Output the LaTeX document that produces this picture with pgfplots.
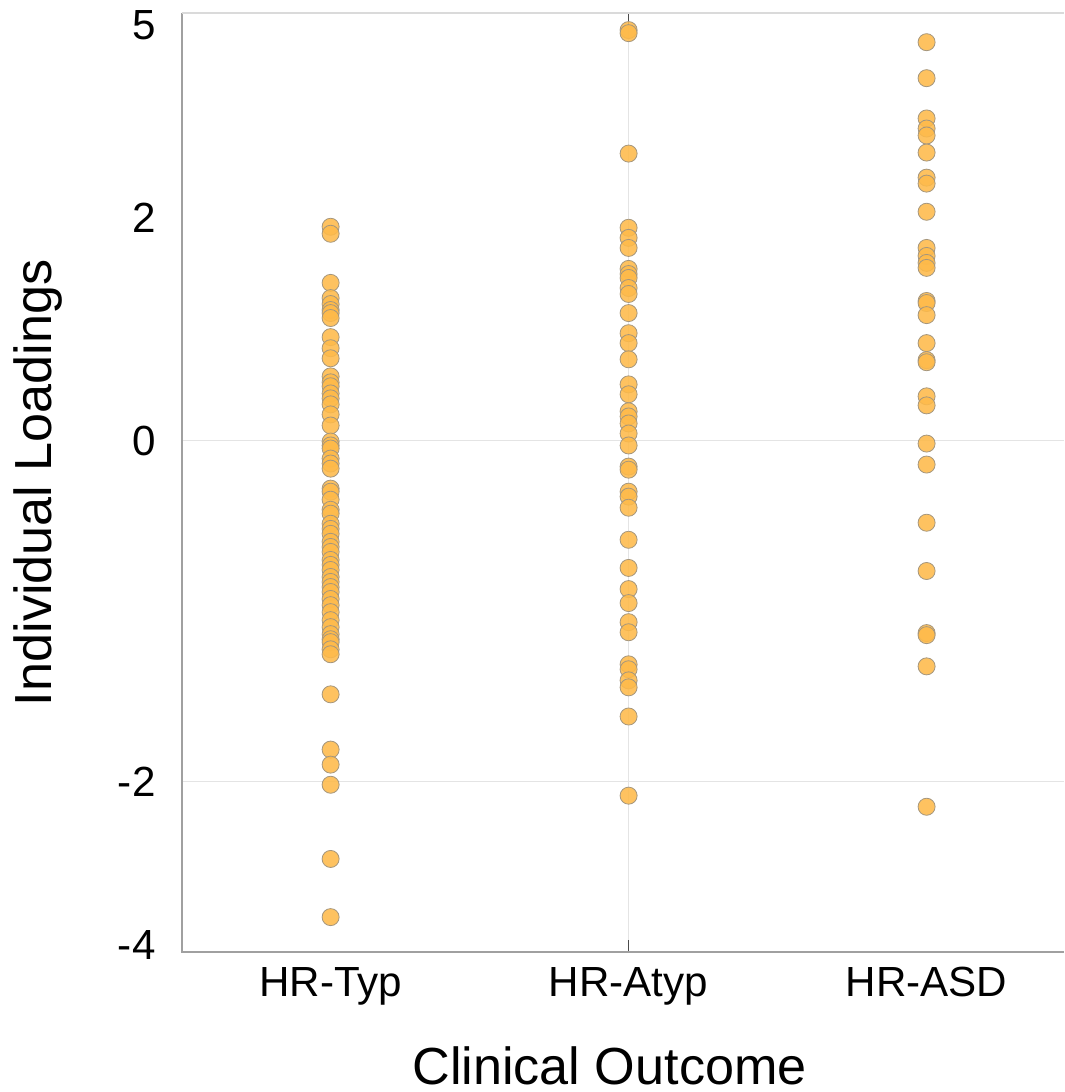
\documentclass[border=0pt]{standalone}
\usepackage{pgfplots}
\pgfplotsset{compat=1.18}
\usepackage{fontspec}
\setmainfont{Liberation Sans}

\definecolor{dotfill}{RGB}{254,186,74}
\definecolor{dotedge}{RGB}{165,150,125}
\definecolor{axisgray}{RGB}{160,160,160}
\definecolor{gridgray}{RGB}{228,228,228}

\begin{document}
\begin{tikzpicture}
\begin{axis}[
    scale only axis,
    width=439.5pt, height=468pt,
    xmin=-0.5, xmax=2.46,
    ymin=-3.0, ymax=2.506,
    xtick={0,1,2},
    xticklabels={HR-Typ,HR-Atyp,HR-ASD},
    ytick={-2.959,-2,0,1.306,2.435},
    yticklabels={-4,-2,0,2,5},
    major tick length=0pt,
    extra x ticks={1}, extra x tick labels={},
    extra x tick style={grid=major, major tick length=6pt, tick style={black!70, line width=0.6pt}},
    extra y ticks={-2,0}, extra y tick labels={},
    extra y tick style={grid=major, major tick length=0pt},
    grid style={gridgray, line width=0.6pt},
    axis line style={draw=none},
    tick label style={font=\fontsize{21}{21}\selectfont},
    xticklabel style={yshift=-4pt},
    yticklabel style={xshift=-9.5pt},
    label style={font=\fontsize{26}{26}\selectfont},
    xlabel={Clinical Outcome},
    ylabel={Individual Loadings},
    xlabel style={xshift=-6.5pt, yshift=-14pt},
    ylabel style={yshift=21pt},
    clip=false,
]
% margins as in the original figure
\path (rel axis cs:0,0.5) ++(-90.5pt,0pt);
\path (rel axis cs:0.5,1) ++(0pt,6.5pt);
\draw[axisgray, line width=1pt] (rel axis cs:0,1) -- (rel axis cs:0,0) -- (rel axis cs:1,0);
\draw[gridgray!90!gray, line width=0.8pt] (rel axis cs:0,1) -- (rel axis cs:1,1);

\addplot[only marks, mark=*, mark size=4.25pt,
    mark options={fill=dotfill, draw=dotedge, line width=0.4pt, fill opacity=0.88}]
    table[x=g, y=v] {
g v
0 1.253
0 1.212
0 0.924
0 0.835
0 0.800
0 0.765
0 0.747
0 0.718
0 0.606
0 0.541
0 0.482
0 0.376
0 0.341
0 0.318
0 0.276
0 0.247
0 0.212
0 0.153
0 0.088
0 -0.006
0 -0.029
0 -0.047
0 -0.106
0 -0.135
0 -0.165
0 -0.282
0 -0.300
0 -0.347
0 -0.406
0 -0.429
0 -0.488
0 -0.518
0 -0.547
0 -0.594
0 -0.624
0 -0.653
0 -0.700
0 -0.729
0 -0.759
0 -0.800
0 -0.829
0 -0.859
0 -0.888
0 -0.929
0 -0.965
0 -1.006
0 -1.053
0 -1.094
0 -1.135
0 -1.165
0 -1.182
0 -1.224
0 -1.253
0 -1.488
0 -1.812
0 -1.900
0 -2.018
0 -2.453
0 -2.794
1 2.406
1 2.388
1 1.682
1 1.247
1 1.188
1 1.129
1 1.006
1 0.976
1 0.953
1 0.894
1 0.859
1 0.747
1 0.629
1 0.571
1 0.476
1 0.329
1 0.271
1 0.171
1 0.141
1 0.100
1 0.041
1 -0.029
1 -0.153
1 -0.171
1 -0.300
1 -0.329
1 -0.394
1 -0.582
1 -0.747
1 -0.871
1 -0.953
1 -1.065
1 -1.124
1 -1.312
1 -1.341
1 -1.406
1 -1.447
1 -1.618
1 -2.082
2 2.335
2 2.124
2 1.888
2 1.829
2 1.788
2 1.688
2 1.541
2 1.506
2 1.341
2 1.129
2 1.082
2 1.041
2 1.012
2 0.818
2 0.806
2 0.735
2 0.571
2 0.471
2 0.459
2 0.259
2 0.206
2 -0.018
2 -0.141
2 -0.482
2 -0.765
2 -1.129
2 -1.141
2 -1.324
2 -2.147
};
\end{axis}
\end{tikzpicture}
\end{document}
